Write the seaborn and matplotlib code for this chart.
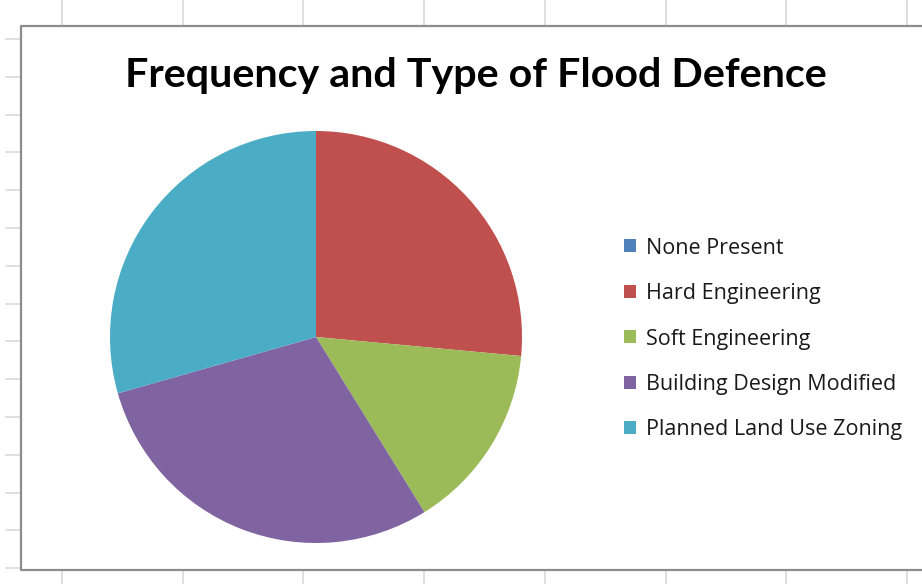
import matplotlib
matplotlib.use("Agg")
import matplotlib.pyplot as plt
import seaborn as sns
from matplotlib.patches import Patch

sns.set_theme(style="white")
plt.rcParams["font.family"] = ["Lato", "DejaVu Sans"]

# Survey counts of flood defence types
categories = ["None Present", "Hard Engineering", "Soft Engineering",
              "Building Design Modified", "Planned Land Use Zoning"]
counts = [0, 9, 5, 10, 10]
colors = ["#4F81BD", "#C0504D", "#9BBB59", "#8064A2", "#4BACC6"]
title = "Frequency and Type of Flood Defence"

W, H, DPI = 922, 584, 100
fig = plt.figure(figsize=(W / DPI, H / DPI), dpi=DPI)
fig.patch.set_facecolor("white")

# Spreadsheet backdrop: pixel-space axes covering the whole figure
bg = fig.add_axes([0, 0, 1, 1])
bg.set_xlim(0, W)
bg.set_ylim(H, 0)
bg.axis("off")
grid_c = "#d9d9d9"
col_x = [62 + 120.7 * k for k in range(8)]
row_y = [39 + 37.8 * k for k in range(15)]
for x in col_x:
    bg.plot([x, x], [0, 26], color=grid_c, lw=1.2)
    bg.plot([x, x], [570, H], color=grid_c, lw=1.2)
for y in row_y:
    bg.plot([6, 21], [y, y], color=grid_c, lw=1.2)
# chart frame
bg.plot([W + 5, 21, 21, W + 5], [26, 26, 570, 570], color="#8c8c8c", lw=1.6)

# Pie
cx, cy, r = 316, 337, 206
pax = fig.add_axes([(cx - r) / W, (H - cy - r) / H, 2 * r / W, 2 * r / H])
wedges, _ = pax.pie(counts, colors=colors, startangle=90, counterclock=False,
                    radius=1.0, wedgeprops=dict(linewidth=0))
pax.set_xlim(-1, 1)
pax.set_ylim(-1, 1)
pax.set_aspect("equal")
pax.axis("off")

renderer = fig.canvas.get_renderer()

# Title, sized to span its width
t = fig.text(125 / W, 1 - 75 / H, title, fontsize=28, fontweight="bold",
             color="black", ha="left", va="center")
bb = t.get_window_extent(renderer)
t.set_fontsize(28 * (828 - 125) / bb.width)

# Legend: font sized so the longest label spans its width,
# rows spaced ~45.5 px apart, square keys ~12 px
leg_font = ["Open Sans", "DejaVu Sans"]
probe = fig.text(0, 0, categories[-1], fontsize=14, family=leg_font)
pw = probe.get_window_extent(renderer).width
probe.remove()
fs = 14 * (902 - 646) / pw
fs_px = fs * DPI / 72
key_px = 12
handles = [Patch(facecolor=c, edgecolor="none") for c in colors]


def build_legend(spacing, anchor):
    return fig.legend(handles, categories, loc="upper left",
                      bbox_to_anchor=anchor, frameon=False,
                      prop=dict(family=leg_font, size=fs),
                      handlelength=key_px / fs_px, handleheight=key_px / fs_px,
                      handletextpad=(646 - 636) / fs_px, labelspacing=spacing,
                      borderpad=0, borderaxespad=0)


spacing = 1.4
leg = build_legend(spacing, (624 / W, 1 - 230 / H))
for _ in range(3):
    fig.canvas.draw()
    boxes = [tx.get_window_extent(renderer) for tx in leg.get_texts()]
    ys = [H - (b.y0 + b.y1) / 2 for b in boxes]
    step = (ys[-1] - ys[0]) / 4
    spacing += (45.5 - step) / fs_px
    dx = 646 - boxes[0].x0
    dy = 248 - ys[0]
    anchor = leg.get_bbox_to_anchor().bounds
    ax0 = anchor[0] / W + dx / W
    ay0 = (anchor[1] + anchor[3]) / H - dy / H
    leg.remove()
    leg = build_legend(spacing, (ax0, ay0))
for txt in leg.get_texts():
    txt.set_color("#1a1a1a")

fig.savefig("out.png", dpi=DPI, facecolor="white")
